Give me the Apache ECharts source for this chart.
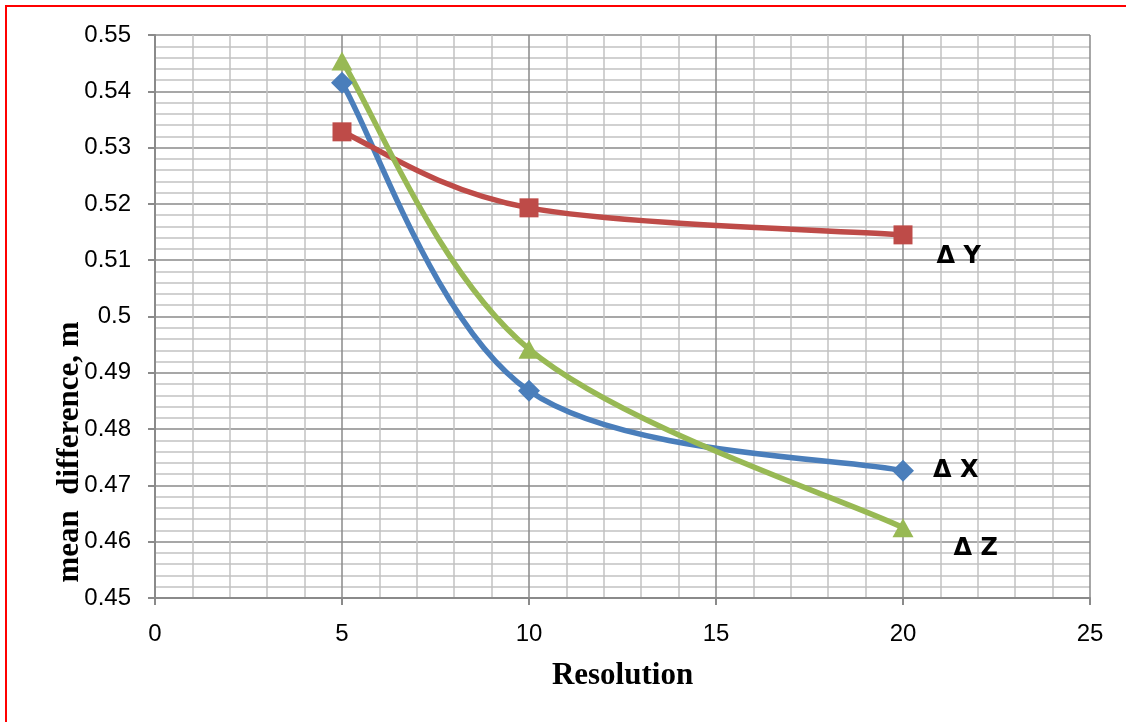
<!DOCTYPE html>
<html>
<head>
<meta charset="utf-8">
<script src="https://cdn.jsdelivr.net/npm/echarts@6/dist/echarts.min.js"></script>
<style>
  html, body { margin: 0; padding: 0; background: #ffffff; overflow: hidden; }
  #frame { position: absolute; left: 5px; top: 5px; width: 1140px; height: 740px; border: 2px solid #ff0000; box-sizing: border-box; }
  #chart { position: absolute; left: 0; top: 0; width: 1126px; height: 722px; }
</style>
</head>
<body>
<div id="frame"></div>
<div id="chart"></div>
<script>
const resolution = [5, 10, 20];
const deltaX = [0.5415, 0.4868, 0.4726];
const deltaY = [0.5328, 0.5193, 0.5145];
const deltaZ = [0.5454, 0.4942, 0.4625];
const seriesNames = ['Δ X', 'Δ Y', 'Δ Z'];
const xTicks = [0, 5, 10, 15, 20, 25];
const yTicks = [0.45, 0.46, 0.47, 0.48, 0.49, 0.5, 0.51, 0.52, 0.53, 0.54, 0.55];

const chart = echarts.init(document.getElementById('chart'), null, { renderer: 'canvas' });

function pairs(vals) { return resolution.map((r, i) => [r, vals[i]]); }

function endLabel(name, offset) {
  return {
    show: true, position: 'right', distance: 0, offset: offset,
    formatter: name,
    color: '#000', fontSize: 24, fontWeight: 'bold',
    fontFamily: 'DejaVu Sans, Arial, sans-serif'
  };
}

function buildData(vals, name, offset) {
  const d = pairs(vals).map(p => ({ value: p }));
  d[d.length - 1].label = endLabel(name, offset);
  return d;
}

// Excel-like smoothed curve (Catmull-Rom style Bezier segments) drawn through the axes' scales
function smoothCurveSeries(vals, color) {
  const data = pairs(vals);
  return {
    type: 'custom', silent: true, z: 1,
    data: data,
    renderItem: function (params, api) {
      const i = params.dataIndex;
      if (i >= data.length - 1) return null;
      const P = data.map(p => api.coord(p));
      const p0 = P[Math.max(i - 1, 0)], p1 = P[i], p2 = P[i + 1], p3 = P[Math.min(i + 2, P.length - 1)];
      const k = 1 / 6;
      return {
        type: 'bezierCurve',
        shape: {
          x1: p1[0], y1: p1[1], x2: p2[0], y2: p2[1],
          cpx1: p1[0] + (p2[0] - p0[0]) * k, cpy1: p1[1] + (p2[1] - p0[1]) * k,
          cpx2: p2[0] - (p3[0] - p1[0]) * k, cpy2: p2[1] - (p3[1] - p1[1]) * k
        },
        style: { stroke: color, lineWidth: 5.5, fill: null, lineCap: 'round' }
      };
    }
  };
}

const gridLineMajor = { show: true, lineStyle: { color: '#8a8a8a', width: 1.5 } };
const gridLineMinor = { show: true, lineStyle: { color: '#c2c2c2', width: 1.5 } };
const colors = ['#4a7ebb', '#be4b48', '#98b954'];

chart.setOption({
  animation: false,
  grid: { left: 155, right: 36, top: 35, bottom: 124, containLabel: false },
  xAxis: {
    type: 'value', min: xTicks[0], max: xTicks[xTicks.length - 1], interval: 5,
    name: 'Resolution', nameLocation: 'middle', nameGap: 62,
    nameTextStyle: { fontFamily: 'Liberation Serif, Times New Roman, serif', fontWeight: 'bold', fontSize: 31, color: '#000' },
    axisLine: { show: true, onZero: false, lineStyle: { color: '#8a8a8a', width: 2 } },
    axisTick: { show: true, length: 7, lineStyle: { color: '#8a8a8a', width: 2 } },
    axisLabel: { margin: 24, fontSize: 24, color: '#000', fontFamily: 'Liberation Sans, Arial, sans-serif' },
    splitLine: gridLineMajor,
    minorTick: { show: false, splitNumber: 5 },
    minorSplitLine: gridLineMinor
  },
  yAxis: {
    type: 'value', min: yTicks[0], max: yTicks[yTicks.length - 1], interval: 0.01,
    axisLine: { show: true, onZero: false, lineStyle: { color: '#8a8a8a', width: 2 } },
    axisTick: { show: true, length: 7, lineStyle: { color: '#8a8a8a', width: 2 } },
    axisLabel: { margin: 24, fontSize: 24, color: '#000', fontFamily: 'Liberation Sans, Arial, sans-serif',
      formatter: v => String(parseFloat(v.toFixed(3))) },
    splitLine: gridLineMajor,
    minorTick: { show: false, splitNumber: 5 },
    minorSplitLine: gridLineMinor
  },
  graphic: [{
    type: 'text',
    x: 70, y: 452,
    rotation: Math.PI / 2,
    style: {
      text: 'mean  difference, m',
      fontFamily: 'Liberation Serif, Times New Roman, serif', fontWeight: 'bold', fontSize: 31,
      fill: '#000', align: 'center', verticalAlign: 'middle'
    }
  }],
  series: [
    smoothCurveSeries(deltaX, colors[0]),
    smoothCurveSeries(deltaY, colors[1]),
    smoothCurveSeries(deltaZ, colors[2]),
    {
      name: seriesNames[0], type: 'line',
      data: buildData(deltaX, seriesNames[0], [19, 0]),
      symbol: 'diamond', symbolSize: 22,
      lineStyle: { width: 0, opacity: 0 },
      itemStyle: { color: colors[0] }, z: 5
    },
    {
      name: seriesNames[1], type: 'line',
      data: buildData(deltaY, seriesNames[1], [24, 22]),
      symbol: 'rect', symbolSize: 19,
      lineStyle: { width: 0, opacity: 0 },
      itemStyle: { color: colors[1] }, z: 5
    },
    {
      name: seriesNames[2], type: 'line',
      data: buildData(deltaZ, seriesNames[2], [40, 21]),
      symbol: 'triangle', symbolSize: [21, 19],
      lineStyle: { width: 0, opacity: 0 },
      itemStyle: { color: colors[2] }, z: 6
    }
  ]
});
</script>
</body>
</html>
